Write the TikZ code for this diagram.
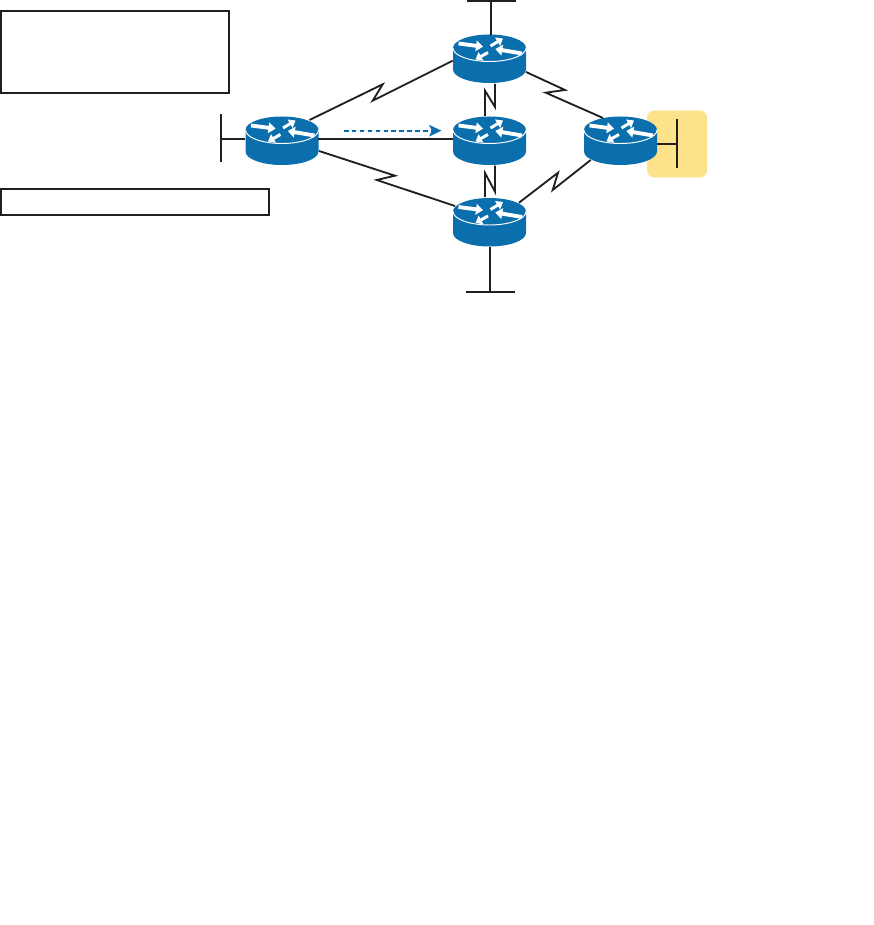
\documentclass[tikz,border=0pt]{standalone}
\usetikzlibrary{arrows.meta,calc,backgrounds}

\definecolor{ciscoblue}{HTML}{0B6FAE}
\definecolor{noteyellow}{HTML}{FDE289}
\definecolor{linegray}{HTML}{231F20}

\tikzset{
    wire/.style={draw=linegray, line width=1.05pt, line join=miter},
    notebox/.style={draw=linegray, line width=1.15pt, fill=white, inner sep=0pt},
    routerarrow/.style={draw=white, line width=2.2pt, -{Triangle[length=4pt,width=6pt]}},
    smallarrow/.style={draw=white, line width=1.7pt, -{Triangle[length=3.6pt,width=5.4pt]}},
    router/.style={inner sep=0pt, minimum width=1.48cm, minimum height=0.98cm,
        path picture={
            \fill[ciscoblue] (-36.5,-11) arc[start angle=180, end angle=0, x radius=36.5, y radius=-13.5]
                -- (36.5,10.5) arc[start angle=0, end angle=180, x radius=36.5, y radius=13.5] -- cycle;
            \draw[white, line width=0.55pt] (-36.5,-11) arc[start angle=180, end angle=0, x radius=36.5, y radius=13.5];
            \draw[routerarrow] (-31,-15.5) -- (-6.5,-12.3);
            \draw[smallarrow] (1,-13) -- (13.5,-20.5);
            \draw[routerarrow] (32.5,-5.5) -- (5.8,-10);
            \draw[smallarrow] (-1.5,-6.5) -- (-14,0.5);
        }}
}

\begin{document}
\begin{tikzpicture}[x=0.02cm, y=-0.02cm]
    \useasboundingbox (0,0) rectangle (874,925);

    % yellow patch behind the right LAN
    \node[fill=noteyellow, rounded corners=4pt, inner sep=0pt, minimum width=1.2cm, minimum height=1.34cm] (patch) at (677,144) {};

    % routers
    \node[router] (rtrA) at (282,141) {};
    \node[router] (rtrB) at (489.5,59) {};
    \node[router] (rtrC) at (489.5,141) {};
    \node[router] (rtrD) at (489.5,222.5) {};
    \node[router] (rtrE) at (620.5,141) {};

    % empty boxes
    \node[notebox, minimum width=4.56cm, minimum height=1.64cm] (boxTop) at (115,52) {};
    \node[notebox, minimum width=5.36cm, minimum height=0.52cm] (boxLow) at (135,202) {};

    % LAN end points
    \coordinate (lanA) at (221,139);
    \coordinate (lanB) at (491,1);
    \coordinate (lanD) at (490,292);
    \coordinate (lanE) at (677,144);

    % LANs
    \draw[wire] (221,114) -- (221,162);
    \draw[wire] (lanA) -- ($(rtrA)+(-37,-2)$);
    \draw[wire] (467,1) -- (516,1);
    \draw[wire] (lanB) -- ($(rtrB)+(1.5,-24)$);
    \draw[wire] (466,292) -- (515,292);
    \draw[wire] (lanD) -- ($(rtrD)+(0.5,24.5)$);
    \draw[wire] (677,119) -- (677,168);
    \draw[wire] (lanE) -- ($(rtrE)+(36.5,3)$);

    % links
    \draw[wire] ($(rtrA)+(36,-2)$) -- ($(rtrC)+(-36.5,-2)$);
    \draw[wire] ($(rtrA)+(27.5,-21)$) -- (382.7,84.3) -- (372.7,100.7) -- ($(rtrB)+(-36.8,1.7)$);
    \draw[wire] ($(rtrA)+(37,10)$) -- (395,175.7) -- (376.7,180) -- ($(rtrD)+(-34.5,-16.5)$);
    \draw[wire] ($(rtrB)+(36.5,13)$) -- (565,90) -- (545.7,92.7) -- ($(rtrE)+(-17.5,-23)$);
    \draw[wire] ($(rtrD)+(29.5,-19.8)$) -- (558,172.7) -- (552.7,190) -- ($(rtrE)+(-29.8,19)$);
    \draw[wire] ($(rtrC)+(-4.5,-25)$) -- (485,90.7) -- (495,107) -- ($(rtrB)+(5.5,25)$);
    \draw[wire] ($(rtrD)+(-4.5,-25.5)$) -- (485,173) -- (495,191.7) -- ($(rtrC)+(5.5,24.7)$);

    % blue flow arrow
    \coordinate (flowA) at (344,130.7);
    \coordinate (flowB) at (441.5,130.7);
    \draw[draw=ciscoblue, fill=ciscoblue, line width=1.1pt, dash pattern=on 2.6pt off 1.9pt, -{Stealth[length=7pt,width=6.5pt,inset=1.5pt]}] (flowA) -- (flowB);
\end{tikzpicture}
\end{document}
